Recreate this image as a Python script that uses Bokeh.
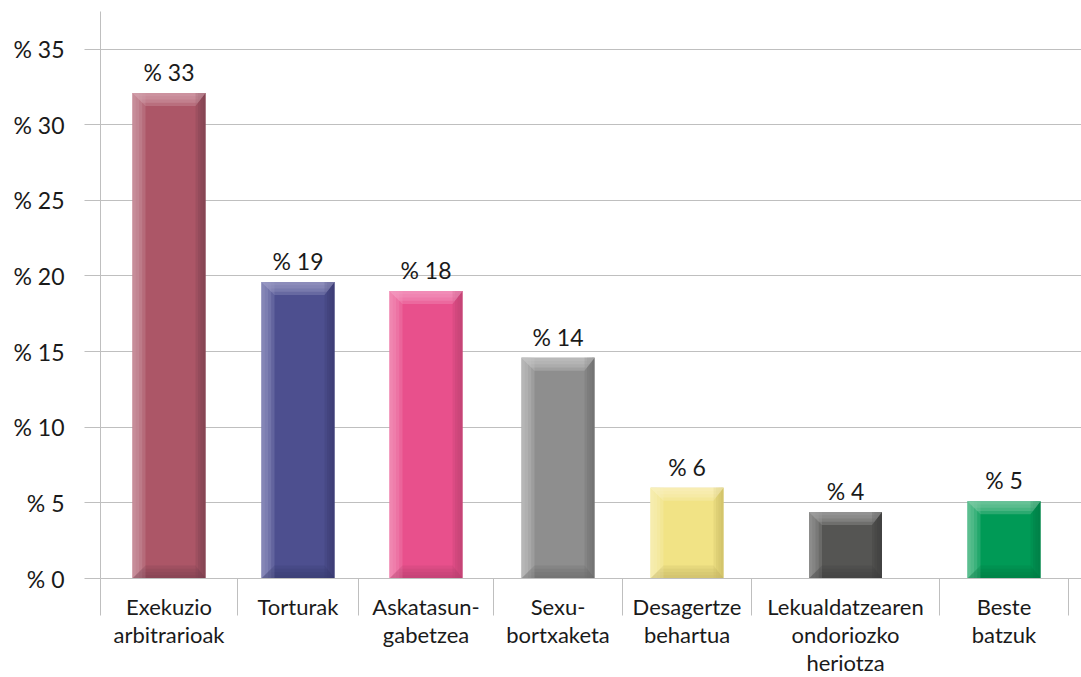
from bokeh.plotting import figure
from bokeh.models import Range1d, FixedTicker, LinearAxis
from bokeh.core.properties import value
from bokeh.embed import file_html
from bokeh.resources import INLINE

# ---- data ----
categories = ["Exekuzio\narbitrarioak", "Torturak", "Askatasun-\ngabetzea", "Sexu-\nbortxaketa",
              "Desagertze\nbehartua", "Lekualdatzearen\nondoriozko\nheriotza", "Beste\nbatzuk"]
bar_values = [32.1, 19.6, 19.0, 14.6, 6.0, 4.4, 5.1]
bar_labels = ["% 33", "% 19", "% 18", "% 14", "% 6", "% 4", "% 5"]
y_ticks = [0, 5, 10, 15, 20, 25, 30, 35]
y_tick_labels = ["% 0", "% 5", "% 10", "% 15", "% 20", "% 25", "% 30", "% 35"]

# ---- style / layout ----
main_colors = ["#AC5667", "#4D4F8F", "#E8508C", "#8E8E8E", "#F1E385", "#555553", "#009A56"]
light_colors = ["#D2A2AD", "#9A9AC4", "#F49CC0", "#C4C4C4", "#F8F0BE", "#A2A2A2", "#7FCBA4"]
dark_colors = ["#7A3F50", "#383A6E", "#B93F70", "#6C6C6C", "#C9B966", "#3E3E3E", "#007A44"]
slot_widths = [137, 121, 135, 129, 129, 188, 129]   # px-like x units
FONT = "Lato"
GRID = "#BFBFBF"
FS = "23px"

edges = [0]
for w in slot_widths:
    edges.append(edges[-1] + w)
centers = [(edges[i] + edges[i + 1]) / 2 for i in range(len(slot_widths))]

FW, FH = 981, 567
y_max = 37.48
px = y_max / FH  # data units per pixel (y)
bw = 73
hw = bw / 2

p = figure(frame_width=FW, frame_height=FH, output_backend="svg", toolbar_location=None,
           x_range=Range1d(0, FW), y_range=Range1d(0, y_max),
           min_border_left=100, min_border_right=0, min_border_top=11, min_border_bottom=99,
           x_axis_type=None)
p.outline_line_color = None
p.background_fill_color = "white"
p.border_fill_color = "white"
p.xgrid.visible = False
p.ygrid.ticker = FixedTicker(ticks=y_ticks)
p.ygrid.grid_line_color = GRID
p.ygrid.grid_line_width = 1

# y axis
ya = p.yaxis[0]
ya.ticker = FixedTicker(ticks=y_ticks)
ya.major_label_overrides = {t: l for t, l in zip(y_ticks, y_tick_labels)}
ya.axis_line_color = GRID
ya.major_tick_line_color = GRID
ya.major_tick_out = 16
ya.major_tick_in = 0
ya.minor_tick_line_color = None
ya.major_label_standoff = 20
ya.major_label_text_font = FONT
ya.major_label_text_font_size = FS
ya.major_label_text_color = "#1a1a1a"

# x axis (category separators as minor ticks)
xa = LinearAxis(ticker=FixedTicker(ticks=centers, minor_ticks=edges))
xa.major_label_overrides = {c: l for c, l in zip(centers, categories)}
xa.axis_line_color = GRID
xa.major_tick_out = 0
xa.major_tick_in = 0
xa.minor_tick_out = 37
xa.minor_tick_in = 0
xa.minor_tick_line_color = GRID
xa.major_label_standoff = -23
xa.major_label_text_font = FONT
xa.major_label_text_font_size = "22px"
xa.major_label_text_line_height = 1.04
xa.major_label_text_color = "#1a1a1a"
p.add_layout(xa, "below")

# bars with soft bevel (stacked translucent layers)
p.vbar(x=centers, width=bw, top=bar_values, bottom=0, fill_color=main_colors, line_color=None)
lw, rw, cap, base = 13, 10, 13, 13
N = 4
for k in range(1, N + 1):
    f = k / N
    p.quad(left=[c - hw for c in centers], right=[c - hw + lw * f for c in centers],
           bottom=0, top=bar_values, fill_color=light_colors, fill_alpha=0.28, line_color=None)
    p.quad(left=[c + hw - rw * f for c in centers], right=[c + hw for c in centers],
           bottom=0, top=bar_values, fill_color=dark_colors, fill_alpha=0.28, line_color=None)
    bx, by, tx, ty = [], [], [], []
    for c, v in zip(centers, bar_values):
        h_b = base * f * px
        h_t = cap * f * px
        bx.append([c - hw, c + hw, c + hw - rw * f, c - hw + lw * f])
        by.append([0, 0, h_b, h_b])
        tx.append([c - hw, c + hw, c + hw - rw * f, c - hw + lw * f])
        ty.append([v, v, v - h_t, v - h_t])
    p.patches(bx, by, fill_color=dark_colors, fill_alpha=0.25, line_color=None)
    p.patches(tx, ty, fill_color=light_colors, fill_alpha=0.34, line_color=None)

# value labels
p.text(x=centers, y=bar_values, text=bar_labels, y_offset=-7, text_align="center",
       text_baseline="bottom", text_font=value(FONT), text_font_size=FS, text_color="#1a1a1a")

open("out.html", "w").write(file_html(p, INLINE))
